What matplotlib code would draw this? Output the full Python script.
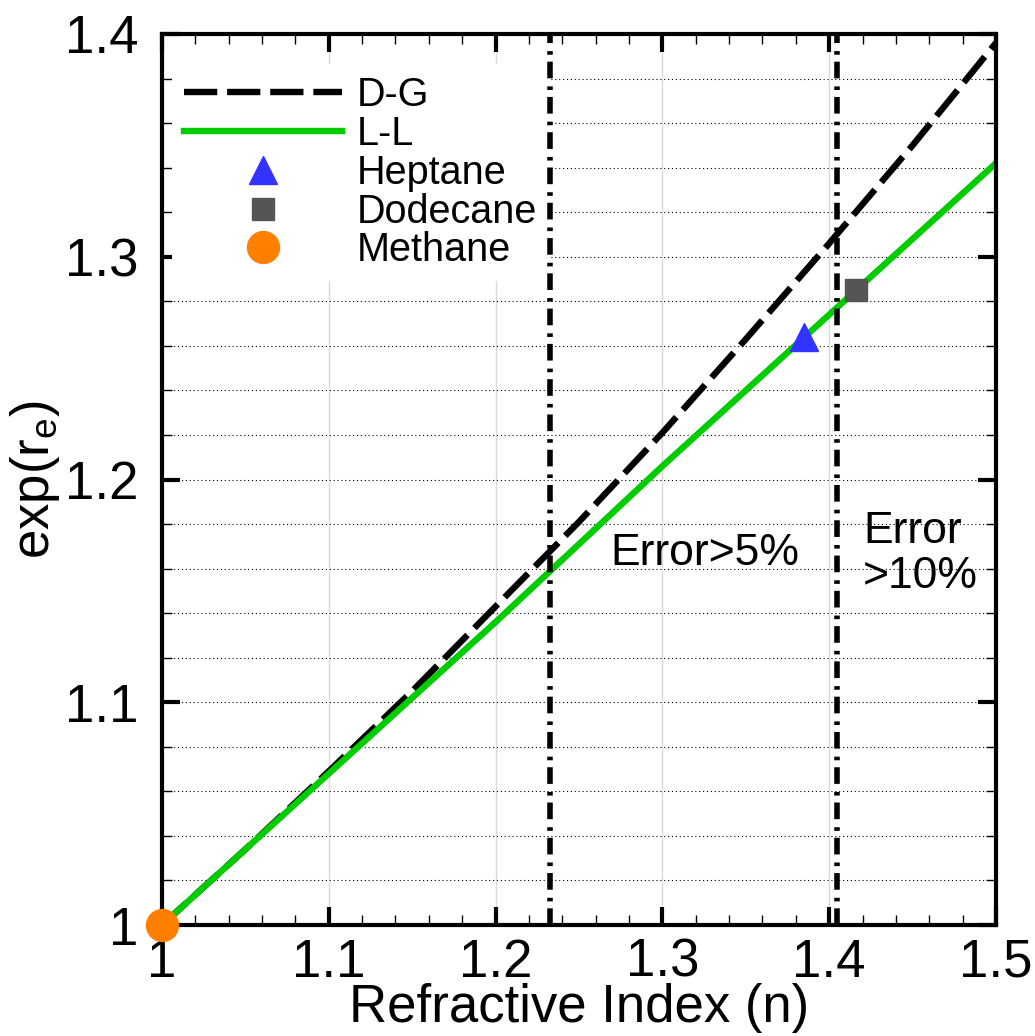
import matplotlib
matplotlib.use("Agg")
import matplotlib.pyplot as plt
from matplotlib.ticker import MultipleLocator, FuncFormatter

# values
n_vals = [1.00, 1.05, 1.10, 1.15, 1.20, 1.25, 1.30, 1.35, 1.40, 1.45, 1.50]
dg_vals = [1.000, 1.034, 1.069, 1.105, 1.143, 1.181, 1.221, 1.263, 1.306, 1.350, 1.396]
ll_vals = [1.000, 1.034, 1.068, 1.102, 1.136, 1.171, 1.206, 1.240, 1.274, 1.308, 1.342]

heptane = (1.385, 1.264)
dodecane = (1.416, 1.285)
methane = (1.0, 1.0)

error_lines = [1.2326, 1.4045]

plt.rcParams["font.family"] = ["Liberation Sans", "DejaVu Sans"]
plt.rcParams["mathtext.fontset"] = "custom"
plt.rcParams["mathtext.rm"] = "Liberation Sans"
plt.rcParams["mathtext.it"] = "Liberation Sans"

fig = plt.figure(figsize=(10.35, 10.36), dpi=100)
ax = fig.add_axes([0.1565, 0.1071, 0.8058, 0.8601])

ax.plot(n_vals, dg_vals, color="black", lw=4.6, dashes=(5.2, 1.55), label="D-G")
ax.plot(n_vals, ll_vals, color="#00cc00", lw=4.6, label="L-L")
ax.plot([heptane[0]], [heptane[1]], ls="none", marker="^", ms=19.5,
        color="#3333ff", label="Heptane")
ax.plot([dodecane[0]], [dodecane[1]], ls="none", marker="s", ms=16.5,
        color="#555555", label="Dodecane")
ax.plot([methane[0]], [methane[1]], ls="none", marker="o", ms=23,
        color="#ff8000", label="Methane", clip_on=False, zorder=10)

# vertical error limits, drawn above the legend box
for xv in error_lines:
    ax.axvline(xv, color="black", lw=4.0, dashes=(3.0, 1.25, 0.65, 1.45), zorder=6)

ax.text(1.2686, 1.1616, "Error>5%", fontsize=32, ha="left", va="baseline")
ax.text(1.4203, 1.1715, "Error", fontsize=32, ha="left", va="baseline")
ax.text(1.4203, 1.1513, ">10%", fontsize=32, ha="left", va="baseline")

ax.set_xlim(1.0, 1.5)
ax.set_ylim(1.0, 1.4)
ax.xaxis.set_major_locator(MultipleLocator(0.1))
ax.xaxis.set_minor_locator(MultipleLocator(0.02))
ax.yaxis.set_major_locator(MultipleLocator(0.1))
ax.yaxis.set_minor_locator(MultipleLocator(0.02))
fmt = FuncFormatter(lambda v, _: f"{v:g}")
ax.xaxis.set_major_formatter(fmt)
ax.yaxis.set_major_formatter(fmt)

ax.set_axisbelow(True)
ax.grid(which="major", axis="x", color="#d9d9d9", lw=1.0)
ax.grid(which="both", axis="y", color="black", lw=0.8, ls=(0, (1, 2.5)))

for s in ax.spines.values():
    s.set_linewidth(3)
ax.tick_params(which="major", direction="in", length=13, width=3,
               top=True, right=True, labelsize=38)
ax.tick_params(which="minor", direction="in", length=7, width=1,
               top=True, right=True)
ax.tick_params(axis="x", which="major", pad=9)
ax.tick_params(axis="y", which="major", pad=17)

ax.set_xlabel("Refractive Index (n)", fontsize=38, labelpad=-3)
ax.set_ylabel(r"exp(r$_{\rm e}$)", fontsize=38, labelpad=2)

leg = ax.legend(loc="upper left", bbox_to_anchor=(0.012, 0.966), borderaxespad=0,
                fontsize=28.5, handlelength=4.0, handletextpad=0.38,
                labelspacing=0.02, borderpad=0.3, numpoints=1,
                fancybox=False, framealpha=1.0, edgecolor="none")

fig.savefig("out.png", dpi=100)
